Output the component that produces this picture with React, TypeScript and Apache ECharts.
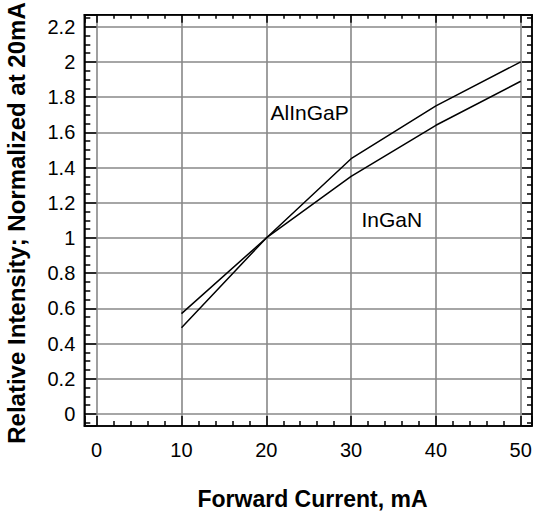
import React, { useEffect, useRef } from "react";
import * as echarts from "echarts";

// ---- data ----
const currents = [10, 20, 30, 40, 50];
const alInGaP = [0.49, 1.0, 1.45, 1.75, 2.0];
const inGaN = [0.57, 1.0, 1.35, 1.64, 1.89];
const seriesNames = ["AlInGaP", "InGaN"];
const xTitle = "Forward Current, mA";
const yTitle = "Relative Intensity; Normalized at 20mA";

const FONT = "'Liberation Sans', Arial, Helvetica, sans-serif";

export default function App() {
  const ref = useRef<HTMLDivElement>(null);

  useEffect(() => {
    if (!ref.current) return;
    const chart = echarts.init(ref.current, null, { renderer: "svg" });

    const X_MIN = -1.46;
    const X_MAX = 51.33;
    const Y_MIN = -0.068;
    const Y_MAX = 2.268;

    const gL = 84.3;
    const gT = 14.7;
    const gR = 532;
    const gB = 426;

    const xFmt = (v: number) =>
      Math.abs(v - Math.round(v / 10) * 10) < 1e-6 ? String(Math.round(v)) : "";
    const yFmt = (v: number) => {
      const r = Math.round(v * 5) / 5;
      return Math.abs(v - r) < 1e-6 ? String(parseFloat(r.toFixed(1))) : "";
    };

    const tickStyle = { color: "#000", width: 1.5 };
    const gridStyle = { color: "#888888", width: 1.6 };

    const baseAxis = (min: number, max: number, split: number) => ({
      type: "value",
      min,
      max,
      splitNumber: split,
      axisLine: { show: true, onZero: false, lineStyle: { color: "#000", width: 1.5 } },
      minorSplitLine: { show: false },
    });

    const option: any = {
      animation: false,
      backgroundColor: "#fff",
      grid: {
        left: gL,
        top: gT,
        width: gR - gL,
        height: gB - gT,
        containLabel: false,
        outerBoundsMode: "none",
      },
      xAxis: [
        {
          ...baseAxis(X_MIN, X_MAX, 5),
          position: "bottom",
          axisTick: { show: true, inside: true, length: 10, lineStyle: tickStyle },
          minorTick: { show: true, splitNumber: 5, length: 5, lineStyle: tickStyle },
          splitLine: { show: true, showMinLine: false, showMaxLine: false, lineStyle: gridStyle },
          axisLabel: {
            show: true,
            margin: 14,
            formatter: xFmt,
            showMinLabel: false,
            showMaxLabel: false,
            color: "#000",
            fontSize: 20,
            fontFamily: FONT,
          },
        },
        {
          ...baseAxis(X_MIN, X_MAX, 5),
          position: "top",
          axisTick: { show: true, inside: true, length: 8, lineStyle: tickStyle },
          minorTick: { show: true, splitNumber: 5, length: 4, lineStyle: tickStyle },
          splitLine: { show: false },
          axisLabel: { show: false, showMinLabel: false, showMaxLabel: false },
        },
      ],
      yAxis: [
        {
          ...baseAxis(Y_MIN, Y_MAX, 12),
          position: "left",
          axisTick: { show: true, inside: true, length: 12, lineStyle: tickStyle },
          minorTick: { show: true, splitNumber: 4, length: 6, lineStyle: tickStyle },
          splitLine: { show: true, showMinLine: false, showMaxLine: false, lineStyle: gridStyle },
          axisLabel: {
            show: true,
            margin: 9,
            formatter: yFmt,
            showMinLabel: false,
            showMaxLabel: false,
            color: "#000",
            fontSize: 20,
            fontFamily: FONT,
          },
        },
        {
          ...baseAxis(Y_MIN, Y_MAX, 12),
          position: "right",
          axisTick: { show: true, inside: true, length: 10, lineStyle: tickStyle },
          minorTick: { show: true, splitNumber: 4, length: 5, lineStyle: tickStyle },
          splitLine: { show: false },
          axisLabel: { show: false, showMinLabel: false, showMaxLabel: false },
        },
      ],
      series: [
        {
          type: "line",
          name: seriesNames[0],
          xAxisIndex: 0,
          yAxisIndex: 0,
          data: currents.map((x, i) => [x, alInGaP[i]]),
          symbol: "none",
          silent: true,
          lineStyle: { color: "#000", width: 1.5 },
          z: 5,
        },
        {
          type: "line",
          name: seriesNames[1],
          xAxisIndex: 0,
          yAxisIndex: 0,
          data: currents.map((x, i) => [x, inGaN[i]]),
          symbol: "none",
          silent: true,
          lineStyle: { color: "#000", width: 1.5 },
          z: 5,
        },
      ],
      graphic: [
        {
          type: "rect",
          z: 100,
          silent: true,
          shape: { x: gL, y: gT, width: gR - gL, height: gB - gT },
          style: { fill: "none", stroke: "#000", lineWidth: 1.5 },
        },
        {
          type: "text",
          x: 312.5,
          y: 498.5,
          silent: true,
          style: {
            text: xTitle,
            font: `bold 23px ${FONT}`,
            fill: "#000",
            align: "center",
            verticalAlign: "middle",
            textAlign: "center",
            textVerticalAlign: "middle",
          },
        },
        {
          type: "text",
          x: 16.5,
          y: 223,
          rotation: Math.PI / 2,
          silent: true,
          style: {
            text: yTitle,
            font: `bold 24px ${FONT}`,
            fill: "#000",
            align: "center",
            verticalAlign: "middle",
            textAlign: "center",
            textVerticalAlign: "middle",
          },
        },
        {
          type: "text",
          x: 270.5,
          y: 112,
          silent: true,
          style: {
            text: seriesNames[0],
            font: `21px ${FONT}`,
            fill: "#000",
            align: "left",
            verticalAlign: "middle",
            textAlign: "left",
            textVerticalAlign: "middle",
          },
        },
        {
          type: "text",
          x: 361.5,
          y: 219,
          silent: true,
          style: {
            text: seriesNames[1],
            font: `21px ${FONT}`,
            fill: "#000",
            align: "left",
            verticalAlign: "middle",
            textAlign: "left",
            textVerticalAlign: "middle",
          },
        },
      ],
    };

    chart.setOption(option);
    return () => chart.dispose();
  }, []);

  return (
    <div
      ref={ref}
      style={{ position: "absolute", left: 0, top: 0, width: 533, height: 515 }}
    />
  );
}
